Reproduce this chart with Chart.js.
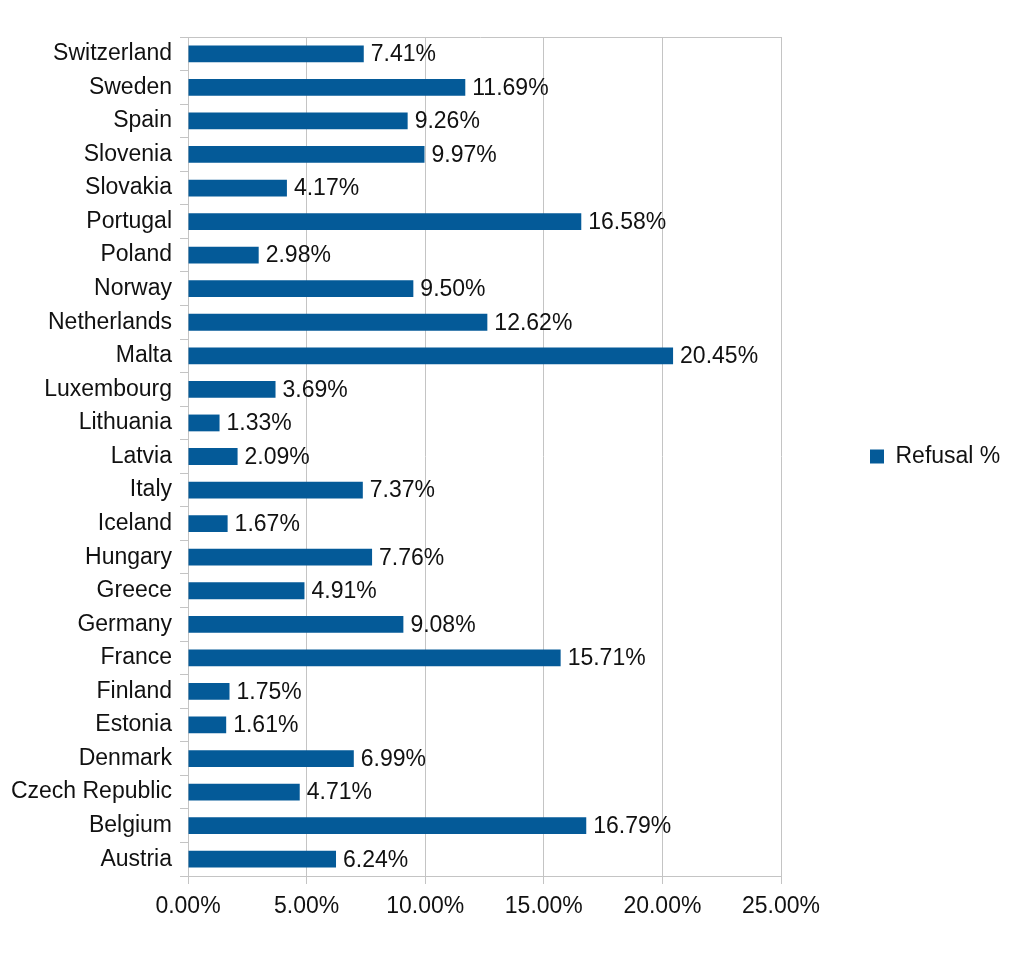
<!DOCTYPE html>
<html>
<head>
<meta charset="utf-8">
<script src="https://cdn.jsdelivr.net/npm/chart.js@4/dist/chart.umd.min.js"></script>
<style>
  html, body { margin: 0; padding: 0; background: #fff; }
  #wrap { width: 1024px; height: 961px; position: relative; }
</style>
</head>
<body>
<div id="wrap"><canvas id="c" width="1024" height="961"></canvas></div>
<script>
const categories = ["Switzerland","Sweden","Spain","Slovenia","Slovakia","Portugal","Poland","Norway","Netherlands","Malta","Luxembourg","Lithuania","Latvia","Italy","Iceland","Hungary","Greece","Germany","France","Finland","Estonia","Denmark","Czech Republic","Belgium","Austria"];
const refusalPct = [7.41,11.69,9.26,9.97,4.17,16.58,2.98,9.50,12.62,20.45,3.69,1.33,2.09,7.37,1.67,7.76,4.91,9.08,15.71,1.75,1.61,6.99,4.71,16.79,6.24];
const seriesName = "Refusal %";
const xTickValues = [0,5,10,15,20,25];

const FONT = "'Liberation Sans', Arial, sans-serif";
const GRID = '#c4c4c4';
const BAR = '#045a98';

const valueLabels = {
  id: 'valueLabels',
  afterDatasetsDraw(chart) {
    const ctx = chart.ctx;
    ctx.save();
    ctx.font = '23px ' + FONT;
    ctx.fillStyle = '#111';
    ctx.textAlign = 'left';
    ctx.textBaseline = 'middle';
    chart.getDatasetMeta(0).data.forEach((el, i) => {
      ctx.fillText(refusalPct[i].toFixed(2) + '%', el.x + 7, el.y + 1);
    });
    ctx.restore();
  }
};
const topBorder = {
  id: 'topBorder',
  beforeDatasetsDraw(chart) {
    const {ctx, chartArea} = chart;
    ctx.save();
    ctx.strokeStyle = GRID;
    ctx.lineWidth = 1;
    ctx.beginPath();
    ctx.moveTo(chartArea.left - 8, Math.round(chartArea.top) + 0.5);
    ctx.lineTo(chartArea.right, Math.round(chartArea.top) + 0.5);
    ctx.stroke();
    ctx.restore();
  }
};
const legendWidth = {
  id: 'legendWidth',
  afterInit(chart) {
    const lg = chart.legend;
    if (!lg) return;
    const orig = lg.fit;
    lg.fit = function () { orig.call(this); if (!this.isHorizontal || !this.isHorizontal()) { this.width = 243; } };
  }
};

new Chart(document.getElementById('c'), {
  type: 'bar',
  data: {
    labels: categories,
    datasets: [{
      label: seriesName,
      data: refusalPct,
      backgroundColor: BAR,
      borderWidth: 0,
      barPercentage: 0.5,
      categoryPercentage: 1.0
    }]
  },
  options: {
    indexAxis: 'y',
    responsive: false,
    animation: false,
    devicePixelRatio: 1,
    layout: { padding: { top: 37, left: 0, right: 0, bottom: 0 } },
    scales: {
      x: {
        min: 0, max: 25,
        afterBuildTicks(scale) { scale.ticks = xTickValues.map(v => ({ value: v })); },
        afterFit(scale) { scale.height = 85; },
        ticks: {
          font: { family: FONT, size: 23 },
          color: '#111',
          padding: 9,
          callback: v => Number(v).toFixed(2) + '%'
        },
        grid: { color: GRID, lineWidth: 1, tickLength: 8, drawTicks: true },
        border: { color: GRID, width: 1 }
      },
      y: {
        afterFit(scale) { scale.width = 188; },
        ticks: {
          font: { family: FONT, size: 23 },
          color: '#111',
          padding: 8,
          autoSkip: false
        },
        grid: { offset: true, drawOnChartArea: false, color: GRID, tickLength: 8 },
        border: { color: GRID, width: 1 }
      }
    },
    plugins: {
      legend: {
        position: 'right',
        fullSize: false,
        labels: {
          font: { family: FONT, size: 23 },
          color: '#111',
          boxWidth: 14,
          boxHeight: 14,
          padding: 89
        }
      },
      tooltip: { enabled: false }
    }
  },
  plugins: [valueLabels, topBorder, legendWidth]
});
</script>
</body>
</html>
